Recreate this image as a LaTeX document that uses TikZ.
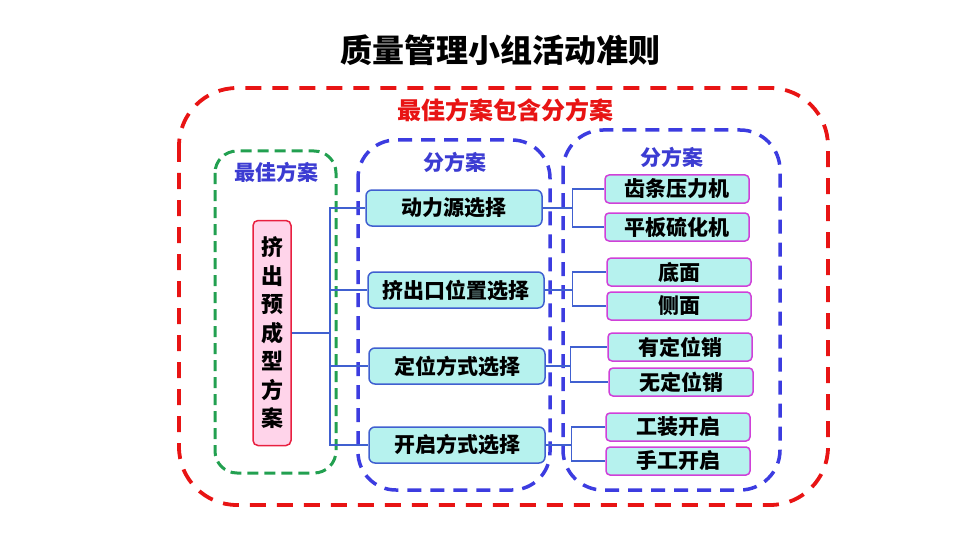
\documentclass[tikz,border=0pt]{standalone}
\usepackage{fontspec}
\setmainfont{Noto Sans CJK SC}
\usetikzlibrary{positioning}
\definecolor{redline}{HTML}{E81414}
\definecolor{greenline}{HTML}{22A050}
\definecolor{blueline}{HTML}{3C3CE0}
\definecolor{bluetext}{HTML}{3C3CD2}
\definecolor{cyanfill}{HTML}{B6F2EE}
\definecolor{midborder}{HTML}{4060D0}
\definecolor{magborder}{HTML}{D040D8}
\definecolor{pinkfill}{HTML}{FFD4EA}
\definecolor{pinkborder}{HTML}{E82040}

\begin{document}
\begin{tikzpicture}[x=1pt,y=-1pt,
frame/.style={
	dash pattern=on 14pt off 9pt,
	line width=3.5pt,
	rounded corners=40pt
},
midbox/.style={
	draw=midborder,
	fill=cyanfill,
	line width=1.5pt,
	rounded corners=6pt,
	minimum width=176pt,
	minimum height=36pt,
	font=\fontsize{21}{24}\selectfont\bfseries
},
leafbox/.style={
	draw=magborder,
	fill=cyanfill,
	line width=1.5pt,
	rounded corners=4pt,
	minimum width=144pt,
	minimum height=28pt,
	font=\fontsize{21}{24}\selectfont\bfseries
},
conn/.style={draw=midborder, line width=1.3pt},
head/.style={text=bluetext, font=\fontsize{21}{24}\selectfont\bfseries}
]
\useasboundingbox (0,0) rectangle (960,540);

\node[font=\fontsize{32}{36}\selectfont\bfseries] (title) at (500,50) {质量管理小组活动准则};

\draw[frame, draw=redline, line width=3.8pt, dash pattern=on 16pt off 11pt, rounded corners=58pt] (179,88) rectangle (828,505);
\node[text=redline, font=\fontsize{24}{28}\selectfont\bfseries] (all) at (505,110) {最佳方案包含分方案};

\draw[frame, draw=greenline, line width=3pt, dash pattern=on 11pt off 6pt, rounded corners=22pt] (215,151) rectangle (336,473);
\node[head] (best) at (276,172) {最佳方案};
\draw[frame, draw=blueline, rounded corners=38pt] (358,140) rectangle (550,490);
\node[head] (sub1) at (455,162) {分方案};
\draw[frame, draw=blueline, rounded corners=40pt] (563,130) rectangle (780,490);
\node[head] (sub2) at (672,157) {分方案};

\node[draw=pinkborder, fill=pinkfill, line width=1.5pt, rounded corners=5pt,
	minimum width=38pt, minimum height=225pt, inner sep=0pt, align=center,
	font=\fontsize{22}{28.5}\selectfont\bfseries] (plan) at (272,333)
	{挤\\出\\预\\成\\型\\方\\案};

\node[midbox] (m1) at (454,208) {动力源选择};
\node[midbox] (m2) at (456,290) {挤出口位置选择};
\node[midbox] (m3) at (457,366) {定位方式选择};
\node[midbox] (m4) at (457,445) {开启方式选择};

\node[leafbox] (r1) at (677,189) {齿条压力机};
\node[leafbox] (r2) at (677,227) {平板硫化机};
\node[leafbox] (r3) at (679,272) {底面};
\node[leafbox] (r4) at (679,306) {侧面};
\node[leafbox] (r5) at (680,347) {有定位销};
\node[leafbox] (r6) at (681,382) {无定位销};
\node[leafbox] (r7) at (678,427) {工装开启};
\node[leafbox] (r8) at (678,461) {手工开启};

\coordinate (bus) at (330,333);
\foreach \m in {m1,m2,m3,m4}
	\draw[conn] (plan.east) -- (bus) |- (\m.west);

\draw[conn] (m1.east) -- ++(30,0) |- (r1.west);
\draw[conn] (m1.east) -- ++(30,0) |- (r2.west);
\draw[conn] (m2.east) -- ++(28,0) |- (r3.west);
\draw[conn] (m2.east) -- ++(28,0) |- (r4.west);
\draw[conn] (m3.east) -- ++(25,0) |- (r5.west);
\draw[conn] (m3.east) -- ++(25,0) |- (r6.west);
\draw[conn] (m4.east) -- ++(26,0) |- (r7.west);
\draw[conn] (m4.east) -- ++(26,0) |- (r8.west);

\end{tikzpicture}
\end{document}
